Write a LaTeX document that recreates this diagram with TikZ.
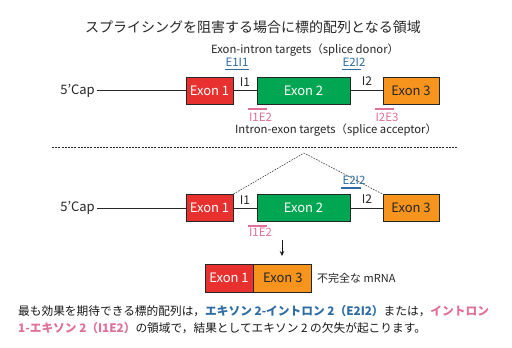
\documentclass[tikz,border=0pt]{standalone}
\usepackage{fontspec}
\setmainfont{Noto Sans CJK JP}
\usetikzlibrary{arrows.meta}
\definecolor{exred}{HTML}{E8312F}
\definecolor{exgreen}{HTML}{00A651}
\definecolor{exorange}{HTML}{F7941D}
\definecolor{tblue}{HTML}{2E6DA4}
\definecolor{tpink}{HTML}{E0709A}
\tikzset{
  exonbox/.style={draw=black!85, line width=0.8pt, minimum height=27pt, inner sep=0pt, font=\fontsize{13}{15}\selectfont},
  exA/.style={exonbox, fill=exred, text=white, minimum width=47pt},
  exB/.style={exonbox, fill=exgreen, text=white, minimum width=93pt},
  exC/.style={exonbox, fill=exorange, text=black!85, minimum width=56pt},
  lbl/.style={inner sep=0pt, font=\fontsize{11.3}{13}\selectfont, text=black!85},
  caplbl/.style={lbl, anchor=east, font=\fontsize{13}{15}\selectfont},
  intlbl/.style={lbl, font=\fontsize{12}{14}\selectfont},
  bluelbl/.style={lbl, text=tblue, font=\fontsize{11.5}{13}\selectfont},
  pinklbl/.style={lbl, text=tpink, font=\fontsize{11.5}{13}\selectfont},
  bluebar/.style={draw=tblue, line width=1.4pt},
  pinkbar/.style={draw=tpink, line width=1.4pt},
  wire/.style={draw=black!85, line width=0.7pt},
  body/.style={inner sep=0pt, anchor=west, font=\fontsize{11.7}{14}\selectfont, text=black!90}
}
\begin{document}
\begin{tikzpicture}[x=1pt,y=-1pt]
\useasboundingbox (0,0) rectangle (512,348);
\fill[white] (0,0) rectangle (512,348);
% title
\node[inner sep=0pt, font=\fontsize{14}{16}\selectfont, text=black!85] (title) at (253,27) {スプライシングを阻害する場合に標的配列となる領域};
% ---- top row
\node[lbl] (donor) at (305,50) {Exon-intron targets（splice donor）};
\node[caplbl] (capA) at (95,90.5) {5’Cap};
\node[exA] (e1a) at (209.5,90.5) {Exon 1};
\node[exB] (e2a) at (303.5,90.5) {Exon 2};
\node[exC] (e3a) at (411,90.5) {Exon 3};
\draw[wire] (capA.east) ++(2,0) coordinate (capAend) -- (e1a.west);
\draw[wire] (e1a.east) -- (e2a.west);
\draw[wire] (e2a.east) -- (e3a.west);
\node[intlbl] (i1a) at (245,82) {I1};
\node[intlbl] (i2a) at (367,81) {I2};
\node[bluelbl] (e1i1) at (237,62) {E1I1};
\draw[bluebar] (225,69.5) -- (249,69.5);
\node[bluelbl] (e2i2a) at (354,62) {E2I2};
\draw[bluebar] (342,69.5) -- (361,69.5);
\node[pinklbl] (i1e2a) at (260.5,117.5) {I1E2};
\draw[pinkbar] (248,109) -- (267,109);
\node[pinklbl] (i2e3) at (387,117.5) {I2E3};
\draw[pinkbar] (375,109) -- (394,109);
\node[lbl] (acceptor) at (336,130) {Intron-exon targets（splice acceptor）};
% separator
\coordinate (sepL) at (52,147);
\coordinate (sepR) at (458,147);
\draw[black!85, line width=0.6pt, dash pattern=on 2pt off 1.2pt] (sepL) -- (sepR);
% ---- second row
\node[caplbl] (capB) at (95,208) {5’Cap};
\node[exA] (e1b) at (209.5,208) {Exon 1};
\node[exB] (e2b) at (303.5,208) {Exon 2};
\node[exC] (e3b) at (411,208) {Exon 3};
\draw[wire] (capB.east) ++(2,0) -- (e1b.west);
\draw[wire] (e1b.east) -- (e2b.west);
\draw[wire] (e2b.east) -- (e3b.west);
\coordinate (peak) at (304,153);
\draw[black!75, line width=0.6pt, dash pattern=on 1.6pt off 1.2pt] (e1b.north east) -- (peak) -- (e3b.north west);
\node[intlbl] (i1b) at (245,200) {I1};
\node[intlbl] (i2b) at (367,199.5) {I2};
\node[bluelbl] (e2i2b) at (354,180.5) {E2I2};
\draw[bluebar] (341,188) -- (361,188);
\node[pinklbl] (i1e2b) at (260.5,232.5) {I1E2};
\draw[pinkbar] (248,226) -- (267,226);
\coordinate (arrTop) at (282,240);
\coordinate (arrBot) at (282,256);
\draw[black!90, line width=0.7pt, -{Stealth[length=5pt,width=4.5pt]}] (arrTop) -- (arrBot);
% ---- product
\node[exA, minimum width=48pt, minimum height=28pt] (e1c) at (229,278) {Exon 1};
\node[exC, minimum width=58pt, minimum height=28pt, anchor=west] (e3c) at (e1c.east) {Exon 3};
\node[lbl, anchor=west, font=\fontsize{11}{13}\selectfont] (mrna) at (317,278.5) {不完全な mRNA};
% ---- body text
\node[body] (l1) at (18,311) {最も効果を期待できる標的配列は，{\bfseries\color{tblue}エキソン 2-イントロン 2（E2I2）}または，{\bfseries\color{tpink}イントロン}};
\node[body] (l2) at (18,328) {{\bfseries\color{tpink}1-エキソン 2（I1E2）}の領域で，結果としてエキソン 2 の欠失が起こります。};
\end{tikzpicture}
\end{document}
